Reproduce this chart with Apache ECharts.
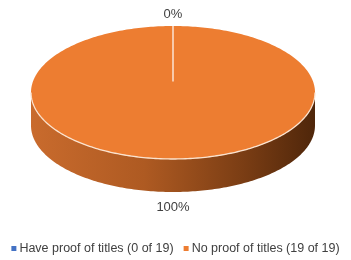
<!DOCTYPE html>
<html>
<head>
<meta charset="utf-8">
<script src="https://cdn.jsdelivr.net/npm/echarts@6/dist/echarts.min.js"></script>
<style>
html,body{margin:0;padding:0;background:#fff;}
#chart{width:351px;height:260px;}
</style>
</head>
<body>
<div id="chart"></div>
<script>
// ---- data ----
const categories = ['Have proof of titles (0 of 19)', 'No proof of titles (19 of 19)'];
const values = [0, 19];
const percentLabels = ['0%', '100%'];
const sliceColors = ['#4472C4', '#ED7D31'];

// ---- layout / style ----
const CX = 173, CY = 92.5, RX = 142, RY = 66.5, DEPTH = 33, APEX_DY = -11;
const FONT = '"Liberation Sans Narrow", "Arial Narrow", "Liberation Sans", sans-serif';
const total = values.reduce((a, b) => a + b, 0);
const starts = [];
let acc = 0;
values.forEach(v => { starts.push(acc); acc += v; });

function pt(theta, dy) {
  return [CX + RX * Math.sin(theta), CY - RY * Math.cos(theta) + (dy || 0)];
}
function arc(a, b, dy) {
  const pts = [];
  const n = Math.max(2, Math.ceil(Math.abs(b - a) / (Math.PI / 180)));
  for (let i = 0; i <= n; i++) pts.push(pt(a + (b - a) * i / n, dy));
  return pts;
}
function shade(i) {
  if (i === 1) {
    return { type: 'linear', x: 0, y: 0, x2: 1, y2: 0, colorStops: [
      { offset: 0, color: '#C96B2D' }, { offset: 0.4, color: '#AE5A22' },
      { offset: 0.75, color: '#7A3D14' }, { offset: 1, color: '#4F260A' }] };
  }
  return { type: 'linear', x: 0, y: 0, x2: 1, y2: 0, colorStops: [
    { offset: 0, color: '#3A5FA3' }, { offset: 1, color: '#1F3560' }] };
}

function makeRender(idx) {
  return function (params, api) {
    const a = starts[idx] / total * Math.PI * 2;
    const b = (starts[idx] + values[idx]) / total * Math.PI * 2;
    const children = [];
    const apex = [CX, CY + APEX_DY];
    if (b > a) {
      const sa = Math.max(a, Math.PI / 2), sb = Math.min(b, Math.PI * 1.5);
      if (sb > sa) {
        const top = arc(sa, sb, 0);
        const bot = arc(sb, sa, DEPTH);
        children.push({ type: 'polygon', shape: { points: top.concat(bot) },
          style: { fill: shade(idx), stroke: null } });
      }
      const face = [apex].concat(arc(a, b, 0));
      children.push({ type: 'polygon', shape: { points: face },
        style: { fill: sliceColors[idx], stroke: null } });
      if (sb > sa) {
        children.push({ type: 'polyline', shape: { points: arc(sa, sb, 0) },
          style: { stroke: '#FBE3CF', lineWidth: 1.3, fill: null } });
      }
      children.push({ type: 'polyline', shape: { points: [pt(a, 0), apex, pt(b, 0)] },
        style: { stroke: '#FFFFFF', lineWidth: 1.3, fill: null, opacity: 0.9 } });
    } else {
      children.push({ type: 'polyline', shape: { points: [apex, pt(a, 0)] },
        style: { stroke: '#FFFFFF', lineWidth: 1.3, fill: null } });
    }
    const m = (a + b) / 2;
    const front = Math.cos(m) < 0;
    const gap = front ? 15 : 12;
    const lx = CX + (RX + gap) * Math.sin(m);
    const ly = CY - (RY + gap) * Math.cos(m) + (front ? DEPTH : 0);
    children.push({ type: 'text', style: { text: percentLabels[idx], x: lx, y: ly,
      fill: '#404040', font: '13px ' + FONT, align: 'center', verticalAlign: 'middle' } });
    return { type: 'group', children: children };
  };
}

const series = categories.map((name, i) => ({
  type: 'custom',
  name: name,
  coordinateSystem: 'none',
  renderItem: makeRender(i),
  itemStyle: { color: sliceColors[i] },
  data: [values[i]],
  silent: true,
  animation: false
}));

const chart = echarts.init(document.getElementById('chart'));
chart.setOption({
  backgroundColor: '#ffffff',
  legend: {
    data: categories,
    bottom: 0,
    left: 'center',
    icon: 'rect',
    itemWidth: 5,
    itemHeight: 5,
    itemGap: 10,
    textStyle: { color: '#404040', fontSize: 12.5, fontFamily: FONT, padding: [0, 0, 0, -2] }
  },
  series: series
});
</script>
</body>
</html>
